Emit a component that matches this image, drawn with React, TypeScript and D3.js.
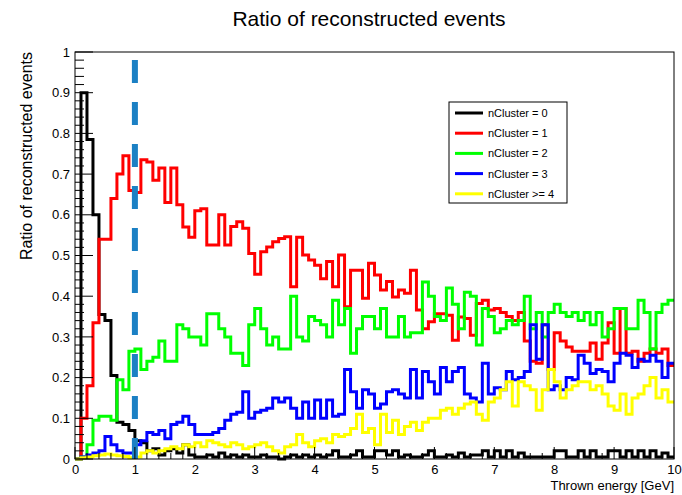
import React, { useEffect, useRef } from 'react';
import * as d3 from 'd3';

// bin contents, 100 bins of 0.1 GeV from 0 to 10 GeV
const nCluster0 = [
  0, 0.9, 0.785, 0.6, 0.355, 0.34, 0.205, 0.09, 0.085, 0.07,
  0.045, 0.04, 0.02, 0.025, 0.01, 0.02, 0.025, 0.015, 0.035, 0.01,
  0.005, 0.005, 0.01, 0.005, 0.015, 0.005, 0.01, 0.005, 0.01, 0.005,
  0.005, 0.01, 0.005, 0.005, 0.0, 0.005, 0.01, 0.005, 0.01, 0.005,
  0.01, 0.005, 0.01, 0.02, 0.005, 0.005, 0.01, 0.02, 0.005, 0.005,
  0.02, 0.02, 0.01, 0.02, 0.005, 0.01, 0.005, 0.005, 0.01, 0.02,
  0.005, 0.005, 0.01, 0.005, 0.015, 0.005, 0.01, 0.01, 0.02, 0.005,
  0.02, 0.005, 0.02, 0.005, 0.015, 0.005, 0.005, 0.005, 0.005, 0.005,
  0.02, 0.02, 0.005, 0.005, 0.02, 0.005, 0.02, 0.005, 0.005, 0.02,
  0.02, 0.005, 0.02, 0.005, 0.02, 0.005, 0.02, 0.005, 0.015, 0.005,
];
const nCluster1 = [
  0, 0.1, 0.18, 0.335, 0.54, 0.54, 0.64, 0.7, 0.745, 0.66,
  0.655, 0.735, 0.73, 0.685, 0.715, 0.63, 0.715, 0.625, 0.57, 0.545,
  0.61, 0.615, 0.526, 0.526, 0.6, 0.526, 0.571, 0.583, 0.567, 0.505,
  0.454, 0.509, 0.521, 0.534, 0.542, 0.546, 0.423, 0.545, 0.501, 0.489,
  0.476, 0.443, 0.485, 0.423, 0.501, 0.374, 0.464, 0.464, 0.395, 0.481,
  0.452, 0.415, 0.436, 0.398, 0.415, 0.407, 0.464, 0.366, 0.32, 0.337,
  0.357, 0.357, 0.353, 0.292, 0.349, 0.345, 0.304, 0.382, 0.39, 0.366,
  0.37, 0.36, 0.35, 0.34, 0.36, 0.29, 0.24, 0.235, 0.33, 0.22,
  0.31, 0.29, 0.275, 0.265, 0.265, 0.265, 0.285, 0.245, 0.285, 0.335,
  0.26, 0.37, 0.26, 0.265, 0.24, 0.26, 0.27, 0.26, 0.27, 0.23,
];
const nCluster2 = [
  0, 0.005, 0.035, 0.095, 0.105, 0.105, 0.095, 0.195, 0.17, 0.265,
  0.27, 0.22, 0.24, 0.25, 0.29, 0.24, 0.24, 0.33, 0.32, 0.3,
  0.3, 0.28, 0.357, 0.357, 0.32, 0.3, 0.26, 0.26, 0.23, 0.33,
  0.37, 0.32, 0.28, 0.3, 0.27, 0.27, 0.4, 0.3, 0.29, 0.35,
  0.34, 0.33, 0.3, 0.39, 0.33, 0.37, 0.26, 0.32, 0.35, 0.35,
  0.32, 0.37, 0.3, 0.3, 0.35, 0.3, 0.31, 0.31, 0.435, 0.4,
  0.35, 0.34, 0.42, 0.38, 0.32, 0.41, 0.4, 0.28, 0.37, 0.35,
  0.31, 0.32, 0.34, 0.33, 0.34, 0.4, 0.32, 0.36, 0.3, 0.36,
  0.38, 0.36, 0.35, 0.36, 0.34, 0.36, 0.33, 0.36, 0.3, 0.32,
  0.37, 0.37, 0.32, 0.32, 0.39, 0.36, 0.27, 0.36, 0.38, 0.39,
];
const nCluster3 = [
  0, 0.005, 0.01, 0.015, 0.02, 0.055, 0.035, 0.02, 0.015, 0.015,
  0.035, 0.045, 0.065, 0.06, 0.07, 0.05, 0.085, 0.09, 0.105, 0.085,
  0.06, 0.06, 0.06, 0.065, 0.075, 0.095, 0.11, 0.115, 0.165, 0.1,
  0.115, 0.12, 0.125, 0.15, 0.14, 0.15, 0.125, 0.1, 0.14, 0.1,
  0.145, 0.1, 0.145, 0.105, 0.11, 0.22, 0.165, 0.125, 0.17, 0.16,
  0.125, 0.135, 0.165, 0.17, 0.16, 0.15, 0.22, 0.15, 0.215, 0.19,
  0.16, 0.225, 0.19, 0.215, 0.225, 0.16, 0.15, 0.14, 0.235, 0.16,
  0.175, 0.17, 0.215, 0.195, 0.2, 0.215, 0.33, 0.245, 0.33, 0.17,
  0.18, 0.17, 0.2, 0.195, 0.255, 0.235, 0.21, 0.22, 0.215, 0.19,
  0.235, 0.26, 0.255, 0.225, 0.245, 0.24, 0.255, 0.24, 0.2, 0.235,
];
const nCluster4 = [
  0, 0.003, 0.005, 0.008, 0.01, 0.012, 0.01, 0.008, 0.006, 0.003,
  0.005, 0.015, 0.02, 0.015, 0.02, 0.025, 0.03, 0.025, 0.035, 0.03,
  0.04, 0.03, 0.045, 0.04, 0.035, 0.03, 0.04, 0.035, 0.025, 0.03,
  0.035, 0.04, 0.03, 0.02, 0.015, 0.03, 0.035, 0.06, 0.04, 0.03,
  0.045, 0.05, 0.04, 0.06, 0.055, 0.06, 0.075, 0.11, 0.065, 0.075,
  0.035, 0.11, 0.065, 0.095, 0.06, 0.08, 0.09, 0.07, 0.09, 0.1,
  0.1, 0.12, 0.125, 0.11, 0.125, 0.135, 0.14, 0.11, 0.095, 0.14,
  0.15, 0.17, 0.19, 0.13, 0.19, 0.18, 0.17, 0.12, 0.17, 0.22,
  0.19, 0.15, 0.17, 0.18, 0.19, 0.19, 0.17, 0.18, 0.16, 0.13,
  0.12, 0.16, 0.11, 0.15, 0.16, 0.18, 0.2, 0.15, 0.17, 0.14,
];

const seriesLabels = ['nCluster = 0', 'nCluster = 1', 'nCluster = 2', 'nCluster = 3', 'nCluster >= 4'];
const seriesColors = ['#000000', '#ff0000', '#00ff00', '#0000ff', '#ffff00'];
const xTicks = [0, 1, 2, 3, 4, 5, 6, 7, 8, 9, 10];
const yTicks = [0, 0.1, 0.2, 0.3, 0.4, 0.5, 0.6, 0.7, 0.8, 0.9, 1];
const cutEnergy = 1;

const FONT = '"Liberation Sans", Arial, Helvetica, sans-serif';

const App: React.FC = () => {
  const svgRef = useRef<SVGSVGElement | null>(null);

  useEffect(() => {
    if (!svgRef.current) return;
    const svg = d3.select(svgRef.current);
    svg.selectAll('*').remove();

    const width = 682;
    const height = 495;
    const frame = { left: 75, right: 674, top: 52, bottom: 459 };
    const binWidth = 0.1;

    const x = d3.scaleLinear().domain([0, 10]).range([frame.left, frame.right]);
    const y = d3.scaleLinear().domain([0, 1]).range([frame.bottom, frame.top]);

    svg.append('rect').attr('width', width).attr('height', height).attr('fill', '#fff');

    // title
    svg
      .append('text')
      .attr('x', 369)
      .attr('y', 26)
      .attr('text-anchor', 'middle')
      .attr('font-family', FONT)
      .attr('font-size', 21)
      .text('Ratio of reconstructed events');

    // histograms as step lines
    const allSeries = [nCluster0, nCluster1, nCluster2, nCluster3, nCluster4];
    const step = d3
      .line<[number, number]>()
      .x((d) => x(d[0]))
      .y((d) => y(d[1]))
      .curve(d3.curveStepAfter);

    const plot = svg.append('g');
    allSeries.forEach((vals, i) => {
      const pts: [number, number][] = vals.map((v, k) => [k * binWidth, v]);
      pts.push([vals.length * binWidth, vals[vals.length - 1]]);
      plot
        .append('path')
        .attr('d', step(pts) as string)
        .attr('fill', 'none')
        .attr('stroke', seriesColors[i])
        .attr('stroke-width', 3)
        .attr('stroke-linejoin', 'miter');
    });

    // dashed cut line at 1 GeV
    svg
      .append('line')
      .attr('x1', x(cutEnergy))
      .attr('x2', x(cutEnergy))
      .attr('y1', 60)
      .attr('y2', frame.bottom)
      .attr('stroke', '#1b80c4')
      .attr('stroke-width', 6)
      .attr('stroke-dasharray', '23,19');

    // frame
    svg
      .append('rect')
      .attr('x', frame.left)
      .attr('y', frame.top)
      .attr('width', frame.right - frame.left)
      .attr('height', frame.bottom - frame.top)
      .attr('fill', 'none')
      .attr('stroke', '#000')
      .attr('stroke-width', 1);

    // x axis
    const xAxis = d3
      .axisBottom(x)
      .tickValues(xTicks)
      .tickSize(0)
      .tickPadding(6)
      .tickFormat((d) => String(d));
    const gx = svg.append('g').attr('transform', `translate(0,${frame.bottom})`).call(xAxis);
    gx.select('.domain').remove();
    gx.selectAll('text').attr('font-family', FONT).attr('font-size', 13).attr('fill', '#000');
    const xMinor = d3.range(0, 10.001, 0.2);
    svg
      .append('g')
      .selectAll('line')
      .data(xMinor)
      .join('line')
      .attr('x1', (d) => x(d))
      .attr('x2', (d) => x(d))
      .attr('y1', frame.bottom)
      .attr('y2', (d) => frame.bottom - (Math.abs(d - Math.round(d)) < 1e-6 ? 12 : 6))
      .attr('stroke', '#000');

    // y axis
    const yAxis = d3
      .axisLeft(y)
      .tickValues(yTicks)
      .tickSize(0)
      .tickPadding(5)
      .tickFormat((d) => String(+(+d).toFixed(1)));
    const gy = svg.append('g').attr('transform', `translate(${frame.left},0)`).call(yAxis);
    gy.select('.domain').remove();
    gy.selectAll('text').attr('font-family', FONT).attr('font-size', 13).attr('fill', '#000');
    const yMinor = d3.range(0, 1.0001, 0.02);
    svg
      .append('g')
      .selectAll('line')
      .data(yMinor)
      .join('line')
      .attr('x1', frame.left)
      .attr('x2', (d) => frame.left + (Math.abs(d * 10 - Math.round(d * 10)) < 1e-6 ? 18 : 9))
      .attr('y1', (d) => y(d))
      .attr('y2', (d) => y(d))
      .attr('stroke', '#000');

    // axis titles
    svg
      .append('text')
      .attr('x', frame.right)
      .attr('y', 490)
      .attr('text-anchor', 'end')
      .attr('font-family', FONT)
      .attr('font-size', 13)
      .text('Thrown energy [GeV]');
    svg
      .append('text')
      .attr('transform', `translate(32,${frame.top}) rotate(-90)`)
      .attr('text-anchor', 'end')
      .attr('font-family', FONT)
      .attr('font-size', 16)
      .text('Ratio of reconstructed events');

    // legend
    const legend = svg.append('g').attr('transform', 'translate(449,102)');
    legend
      .append('rect')
      .attr('width', 118)
      .attr('height', 101)
      .attr('fill', '#fff')
      .attr('stroke', '#000')
      .attr('stroke-width', 1);
    seriesLabels.forEach((label, i) => {
      const cy = 11 + i * 20.2;
      legend
        .append('line')
        .attr('x1', 6)
        .attr('x2', 34)
        .attr('y1', cy)
        .attr('y2', cy)
        .attr('stroke', seriesColors[i])
        .attr('stroke-width', 3);
      legend
        .append('text')
        .attr('x', 39)
        .attr('y', cy + 4)
        .attr('font-family', FONT)
        .attr('font-size', 11)
        .text(label);
    });
  }, []);

  return (
    <svg
      ref={svgRef}
      width={682}
      height={495}
      style={{ position: 'absolute', left: 0, top: 0, display: 'block' }}
    />
  );
};

export default App;
